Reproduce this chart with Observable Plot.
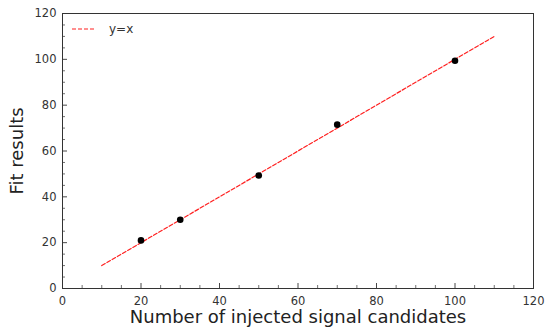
<!DOCTYPE html>
<html>
<head>
<meta charset="utf-8">
<script src="https://cdn.jsdelivr.net/npm/d3@7"></script>
<script src="https://cdn.jsdelivr.net/npm/@observablehq/plot@0.6"></script>
<style>
  html, body { margin: 0; padding: 0; background: #fff; }
  #wrap { position: relative; width: 545px; height: 328px; font-family: "DejaVu Sans", sans-serif; }
  #legend { position: absolute; left: 72px; top: 21px; display: flex; align-items: center; font-size: 12px; color: #333; }
</style>
</head>
<body>
<div id="wrap">
  <div id="chart"></div>
  <div id="legend">
    <svg width="24" height="16"><line x1="0" x2="24" y1="8" y2="8" stroke="#ff2020" stroke-width="1.2" stroke-dasharray="4,2"></line></svg>
    <span style="margin-left:13px">y=x</span>
  </div>
</div>
<script>
const injected = [20, 30, 50, 70, 100];
const fitted = [21, 30, 49.3, 71.5, 99.4];
const lineX = [10, 110];
const majorTicks = [0, 20, 40, 60, 80, 100, 120];
const minorTicks = d3.range(0, 121, 5).filter(v => v % 20 !== 0);
const xLabel = "Number of injected signal candidates";
const yLabel = "Fit results";
const legendLabel = "y=x";

const points = injected.map((x, i) => ({x, y: fitted[i]}));
const diag = lineX.map(v => ({x: v, y: v}));

const W = 545, H = 328, mL = 62, mR = 12, mT = 13, mB = 40;
const pw = W - mL - mR, ph = H - mT - mB;

const chart = Plot.plot({
  width: W, height: H,
  marginLeft: mL, marginRight: mR, marginTop: mT, marginBottom: mB,
  style: {fontFamily: "DejaVu Sans, sans-serif", background: "#fff", color: "#333"},
  x: {domain: [0, 120]},
  y: {domain: [0, 120]},
  marks: [
    Plot.line(diag, {x: "x", y: "y", stroke: "#ff2020", strokeWidth: 1.2, strokeDasharray: "4,2"}),
    Plot.dot(points, {x: "x", y: "y", r: 3.3, fill: "black", stroke: "none"}),
    Plot.tickX(majorTicks, {x: d => d, insetTop: ph - 5, stroke: "#333", strokeWidth: 0.9}),
    Plot.tickX(minorTicks, {x: d => d, insetTop: ph - 3, stroke: "#333", strokeWidth: 0.7}),
    Plot.tickY(majorTicks, {y: d => d, insetRight: pw - 5, stroke: "#333", strokeWidth: 0.9}),
    Plot.tickY(minorTicks, {y: d => d, insetRight: pw - 3, stroke: "#333", strokeWidth: 0.7}),
    Plot.axisX({ticks: majorTicks, tickSize: 0, tickPadding: 8, fontSize: 11.5, label: null, color: "#333"}),
    Plot.axisY({ticks: majorTicks, tickSize: 0, tickPadding: 6, fontSize: 11.5, label: null, color: "#333"}),
    Plot.frame({stroke: "#333", strokeWidth: 1}),
    Plot.text([xLabel], {text: d => d, frameAnchor: "bottom", lineAnchor: "middle", dy: 29, fontSize: 18, fill: "#222"}),
    Plot.text([yLabel], {text: d => d, frameAnchor: "left", textAnchor: "middle", dx: -45, rotate: -90, fontSize: 18, fill: "#222"})
  ]
});
document.getElementById("chart").appendChild(chart);
</script>
</body>
</html>
